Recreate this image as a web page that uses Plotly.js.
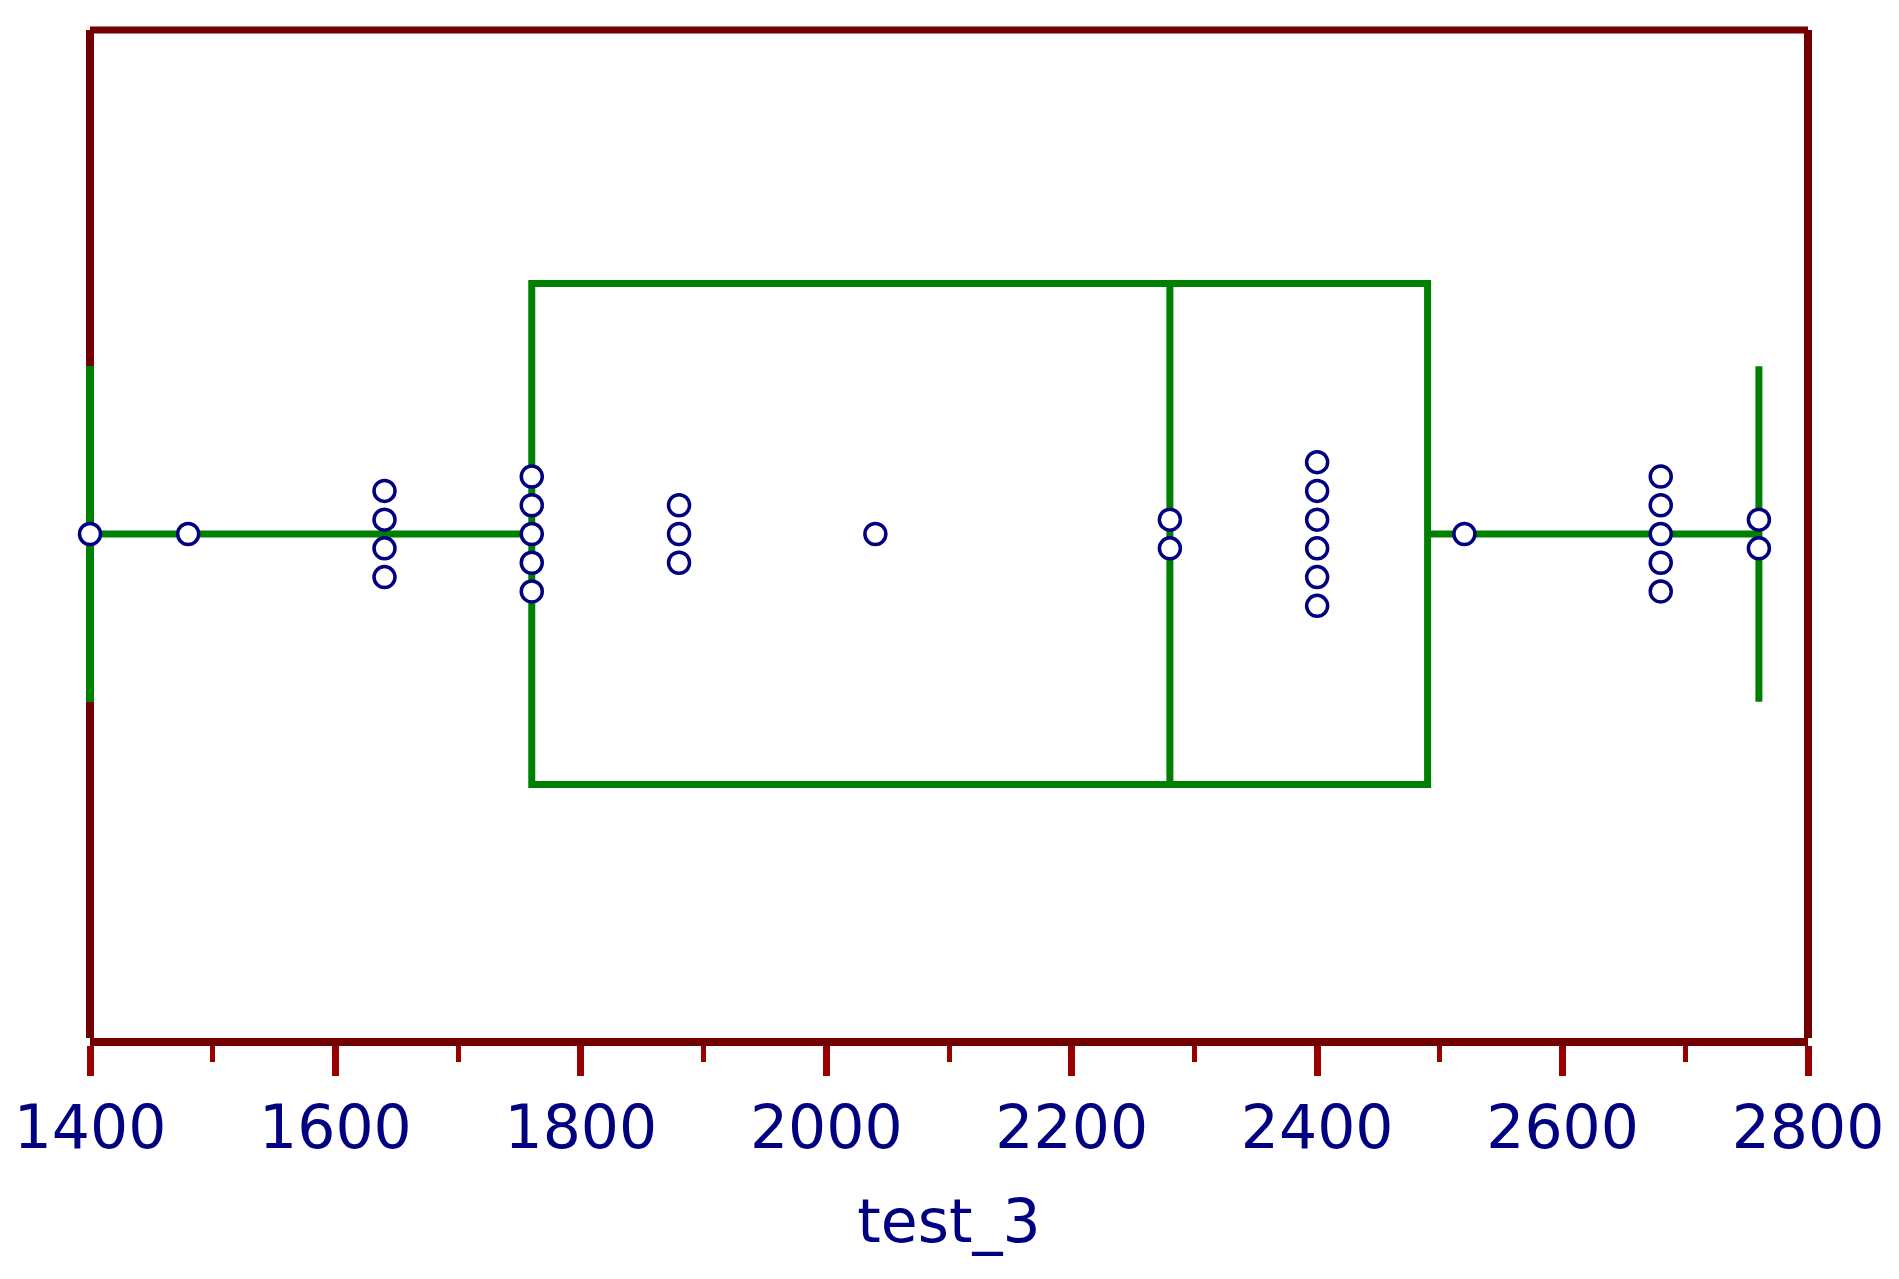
<!DOCTYPE html>
<html>
<head>
<meta charset="utf-8">
<script src="https://cdn.plot.ly/plotly-3.0.1.min.js"></script>
<style>html,body{margin:0;padding:0;background:#fff;}#chart{width:1899px;height:1279px;}</style>
</head>
<body>
<div id="chart"></div>
<script>
// Observed values of test_3 (each distinct value with its count)
const pointValues = [1400, 1480, 1640, 1760, 1880, 2040, 2280, 2400, 2520, 2680, 2760];
const pointCounts = [1, 1, 4, 5, 3, 1, 2, 6, 1, 5, 2];

// Box statistics as drawn
const boxLowerFence = [1400];
const boxQ1 = [1760];
const boxMedian = [2280];
const boxQ3 = [2490];
const boxUpperFence = [2760];

const tickValues = [1400, 1600, 1800, 2000, 2200, 2400, 2600, 2800];
const tickLabels = ['1400', '1600', '1800', '2000', '2200', '2400', '2600', '2800'];
const axisTitle = 'test_3';

// stack identical values vertically, centred on the box line
const stackStep = 0.0285;
const px = [], py = [];
pointValues.forEach((v, i) => {
  const k = pointCounts[i];
  for (let j = 0; j < k; j++) {
    px.push(v);
    py.push((j - (k - 1) / 2) * stackStep);
  }
});

const boxWidth = 0.497;
const whiskerFrac = 0.67;

const green = '#008000';
const navy = '#000080';
const frame = '#720000';
const tickRed = '#990000';
const fontFam = 'DejaVu Sans, Verdana, sans-serif';

const traces = [
  {
    type: 'box',
    orientation: 'h',
    y: [0],
    lowerfence: boxLowerFence,
    q1: boxQ1,
    median: boxMedian,
    q3: boxQ3,
    upperfence: boxUpperFence,
    width: boxWidth,
    whiskerwidth: whiskerFrac,
    fillcolor: 'rgba(0,0,0,0)',
    line: {color: green, width: 7},
    boxpoints: false,
    hoverinfo: 'skip'
  },
  {
    // lower whisker cap as an unclipped vertical-line marker, so it covers the frame line
    type: 'scatter',
    mode: 'markers',
    x: boxLowerFence,
    y: [0],
    marker: {symbol: 'line-ns', size: 240, color: green, line: {color: green, width: 8}},
    hoverinfo: 'skip',
    cliponaxis: false
  },
  {
    type: 'scatter',
    mode: 'markers',
    x: px,
    y: py,
    marker: {symbol: 'circle', size: 21, color: '#ffffff', line: {color: navy, width: 3.5}},
    hoverinfo: 'skip',
    cliponaxis: false
  }
];

const layout = {
  width: 1899,
  height: 1279,
  margin: {l: 90, r: 91, t: 30, b: 241},
  paper_bgcolor: '#ffffff',
  plot_bgcolor: '#ffffff',
  showlegend: false,
  hovermode: false,
  font: {family: fontFam, color: navy},
  xaxis: {
    range: [1400, 2800],
    tickvals: tickValues,
    ticktext: tickLabels,
    ticks: 'outside',
    ticklen: 30,
    tickwidth: 7,
    tickcolor: tickRed,
    minor: {dtick: 100, tick0: 1400, ticks: 'outside', ticklen: 16, tickwidth: 5, tickcolor: tickRed, showgrid: false},
    showline: true,
    linecolor: frame,
    linewidth: 8,
    showgrid: false,
    zeroline: false,
    tickfont: {size: 60, color: navy, family: fontFam},
    ticklabelstandoff: 0,
    title: {text: axisTitle, font: {size: 60, color: navy, family: fontFam}, standoff: 42},
    automargin: false,
    fixedrange: true
  },
  yaxis: {
    range: [-0.5, 0.5],
    showticklabels: false,
    ticks: '',
    showgrid: false,
    zeroline: false,
    showline: false,
    automargin: false,
    fixedrange: true
  },
  shapes: [
    {type: 'line', xref: 'paper', yref: 'paper', x0: 0, x1: 1, y0: 1, y1: 1, line: {color: frame, width: 7}, layer: 'below'},
    {type: 'line', xref: 'paper', yref: 'paper', x0: 0, x1: 0, y0: 0, y1: 1, line: {color: frame, width: 8}, layer: 'below'},
    {type: 'line', xref: 'paper', yref: 'paper', x0: 1, x1: 1, y0: 0, y1: 1, line: {color: frame, width: 8}, layer: 'below'}
  ]
};

Plotly.newPlot('chart', traces, layout, {displayModeBar: false, staticPlot: true});
</script>
</body>
</html>
